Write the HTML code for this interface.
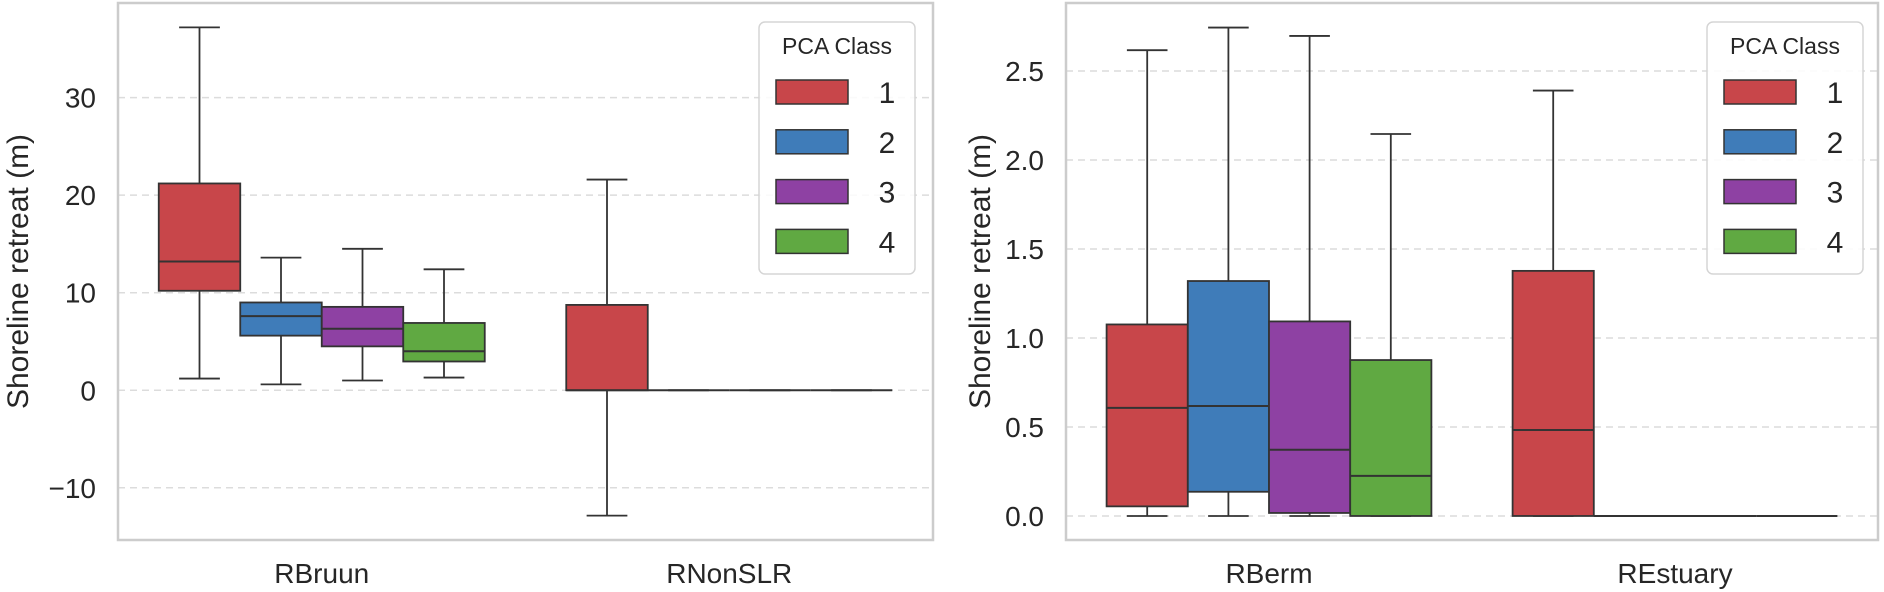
<!DOCTYPE html>
<html><head><meta charset="utf-8"><style>
html,body{margin:0;padding:0;background:#fff;}
svg{display:block;font-family:"Liberation Sans",Arial,sans-serif;}
</style></head><body>
<svg id="chart" width="1884" height="592" viewBox="0 0 1884 592" xmlns="http://www.w3.org/2000/svg"></svg>
<script>
const classLabels = ["1","2","3","4"];
const classColors = ["#c8464a","#3f7cb9","#8e41a3","#60a942"];
const leftCategories = ["RBruun","RNonSLR"];
const leftTicks = [-10,0,10,20,30];
const leftTickLabels = ["\u221210","0","10","20","30"];
// [whiskerLow, Q1, median, Q3, whiskerHigh] per class per category
const leftRBruun = [[1.2,10.2,13.2,21.2,37.2],[0.6,5.6,7.6,9.0,13.6],[1.0,4.5,6.3,8.55,14.5],[1.3,2.95,4.0,6.9,12.4]];
const leftRNonSLR = [[-12.85,0,0,8.75,21.6],[0,0,0,0,0],[0,0,0,0,0],[0,0,0,0,0]];
const rightCategories = ["RBerm","REstuary"];
const rightTicks = [0,0.5,1.0,1.5,2.0,2.5];
const rightTickLabels = ["0.0","0.5","1.0","1.5","2.0","2.5"];
const rightRBerm = [[0,0.054,0.607,1.076,2.617],[0,0.136,0.618,1.32,2.744],[0,0.017,0.372,1.093,2.697],[0,0,0.225,0.876,2.146]];
const rightREstuary = [[0,0,0.483,1.377,2.39],[0,0,0,0,0],[0,0,0,0,0],[0,0,0,0,0]];

const NS="http://www.w3.org/2000/svg";
const svg=document.getElementById('chart');
function mk(tag,attrs,parent){const e=document.createElementNS(NS,tag);for(const k in attrs)e.setAttribute(k,attrs[k]);(parent||svg).appendChild(e);return e;}

function panel(cfg){
  const g=mk('g',{});
  
  
  const {x0,x1,y0,y1,vmin,vmax}=cfg;
  const y=v=>y1-(v-vmin)/(vmax-vmin)*(y1-y0);
  const catW=(x1-x0)/cfg.categories.length;
  const xc=i=>x0+catW*(i+0.5);
  const boxW=catW*0.8/4;
  cfg.ticks.forEach((t,i)=>{
    const gl=mk('line',{x1:x0,x2:x1,y1:y(t),y2:y(t),stroke:'#dcdcdc','stroke-width':1.5,'stroke-dasharray':'7,5'},g);
    
    
    const tl=mk('text',{x:x0-22,y:y(t)+10,'text-anchor':'end','font-size':28,fill:'#262626'},g);
    tl.textContent=cfg.tickLabels[i];
    
    
  });
  cfg.categories.forEach((c,ci)=>{
    const data=cfg.data[ci];
    data.forEach((d,k)=>{
      const bx=xc(ci)-catW*0.4+boxW*k;
      const cx=bx+boxW/2;
      const bg=mk('g',{},g);
      
      
      mk('line',{x1:cx,x2:cx,y1:y(d[3]),y2:y(d[4]),stroke:'#333','stroke-width':1.8},bg);
      mk('line',{x1:cx,x2:cx,y1:y(d[1]),y2:y(d[0]),stroke:'#333','stroke-width':1.8},bg);
      mk('line',{x1:cx-boxW/4,x2:cx+boxW/4,y1:y(d[4]),y2:y(d[4]),stroke:'#333','stroke-width':1.8},bg);
      mk('line',{x1:cx-boxW/4,x2:cx+boxW/4,y1:y(d[0]),y2:y(d[0]),stroke:'#333','stroke-width':1.8},bg);
      mk('rect',{x:bx,y:y(d[3]),width:boxW,height:Math.max(0,y(d[1])-y(d[3])),fill:classColors[k],stroke:'#333','stroke-width':1.8},bg);
      mk('line',{x1:bx,x2:bx+boxW,y1:y(d[2]),y2:y(d[2]),stroke:'#333','stroke-width':2},bg);
    });
    const xl=mk('text',{x:xc(ci),y:583,'text-anchor':'middle','font-size':28,fill:'#262626'},g);
    xl.textContent=c;
    
    
  });
  const fr=mk('rect',{x:x0,y:y0,width:x1-x0,height:y1-y0,fill:'none',stroke:'#cccccc','stroke-width':2.5},g);
  
  
  const yl=mk('text',{x:0,y:0,'text-anchor':'middle','font-size':30,fill:'#262626',transform:`translate(${cfg.ylabX},${(y0+y1)/2}) rotate(-90)`},g);
  yl.textContent='Shoreline retreat (m)';
  
  
  const lg=mk('g',{},g);
  
  
  const lx=cfg.legX, lw=156;
  mk('rect',{x:lx,y:22,width:lw,height:252,rx:6,fill:'#fff','fill-opacity':0.85,stroke:'#d5d5d5','stroke-width':1.5},lg);
  const lt=mk('text',{x:lx+lw/2,y:54,'text-anchor':'middle','font-size':23,fill:'#262626'},lg);
  lt.textContent='PCA Class';
  
  
  classLabels.forEach((l,k)=>{
    const cy=92+k*49.8;
    const le=mk('g',{},lg);
    
    
    mk('rect',{x:lx+17,y:cy-12,width:72,height:24,fill:classColors[k],stroke:'#333','stroke-width':1.5},le);
    const tt=mk('text',{x:lx+128,y:cy+11,'text-anchor':'middle','font-size':30,fill:'#262626'},le);
    tt.textContent=l;
  });
}
panel({name:'left-panel',x0:118,x1:933,y0:3,y1:540,vmin:-15.35,vmax:39.7,categories:leftCategories,data:[leftRBruun,leftRNonSLR],ticks:leftTicks,tickLabels:leftTickLabels,ylabX:28,legX:759});
panel({name:'right-panel',x0:1066,x1:1878,y0:3,y1:540,vmin:-0.135,vmax:2.882,categories:rightCategories,data:[rightRBerm,rightREstuary],ticks:rightTicks,tickLabels:rightTickLabels,ylabX:990,legX:1707});
</script>
</body></html>
